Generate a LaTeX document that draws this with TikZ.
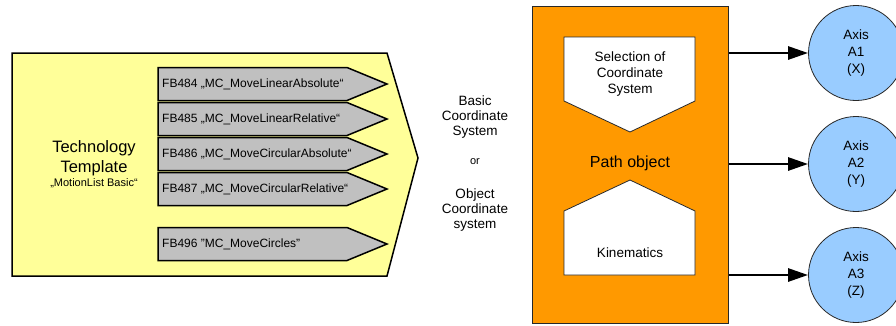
\documentclass[tikz,border=0pt]{standalone}
\usepackage{fontspec}
\setmainfont{Liberation Sans}
\usetikzlibrary{arrows.meta}
\definecolor{tplyellow}{RGB}{255,255,153}
\definecolor{fbgray}{RGB}{192,192,192}
\definecolor{pathorange}{RGB}{255,153,0}
\definecolor{axisblue}{RGB}{153,204,255}
\definecolor{edgegray}{RGB}{40,40,40}
\tikzset{
  tpl/.style={draw=black, line width=1.5pt, fill=tplyellow, line join=miter},
  fbshape/.style={draw=black, line width=1.5pt, fill=fbgray, line join=miter},
  fbtext/.style={anchor=west, inner sep=0pt, font=\fontsize{12}{14}\selectfont},
  plain/.style={inner sep=0pt, align=center, font=\fontsize{13.5}{15}\selectfont},
  pathbox/.style={draw=edgegray, line width=1pt, fill=pathorange, minimum width=196pt, minimum height=317pt, inner sep=0pt},
  pentagon/.style={draw=edgegray, line width=0.8pt, fill=white},
  axis/.style={circle, draw=edgegray, line width=0.8pt, fill=axisblue, minimum size=95pt, inner sep=0pt, align=center, font=\fontsize{13.5}{17}\selectfont},
  axarrow/.style={line width=2.7pt, -{Triangle[length=20pt,width=13pt]}}
}
\begin{document}
\begin{tikzpicture}[x=1pt,y=-1pt]
\useasboundingbox (0,0) rectangle (896,325);
\clip (0,0) rectangle (896,325);

% technology template
\draw[tpl] (12,53) -- (387,53) -- (418,158) -- (387,276) -- (12,276) -- cycle;
\node[inner sep=0pt, align=center, font=\fontsize{16.5}{20}\selectfont] (tt) at (94,158) {Technology\\Template};
\node[inner sep=0pt, font=\fontsize{11}{13}\selectfont] (ml) at (94,183) {„MotionList Basic“};

% function blocks
\foreach \yc/\lbl/\nm in {84/{FB484 „MC\_MoveLinearAbsolute“}/fb1,
                          119/{FB485 „MC\_MoveLinearRelative“}/fb2,
                          154/{FB486 „MC\_MoveCircularAbsolute“}/fb3,
                          189/{FB487 „MC\_MoveCircularRelative“}/fb4,
                          244/{FB496 "MC\_MoveCircles"}/fb5}{
  \draw[fbshape] (158,\yc-16.5) -- (347,\yc-16.5) -- (387,\yc) -- (347,\yc+16.5) -- (158,\yc+16.5) -- cycle;
  \node[fbtext] (\nm) at (162,\yc) {\lbl};
}

% coordinate system labels
\node[plain] (bcs) at (475,117) {Basic\\Coordinate\\System};
\node[plain, font=\fontsize{11}{13}\selectfont] (orl) at (475,162) {or};
\node[plain] (ocs) at (475,210) {Object\\Coordinate\\system};

% path object
\node[pathbox] (po) at (630,164.5) {};
\draw[pentagon] (564,37) -- (695,37) -- (695,101) -- (630,132) -- (564,101) -- cycle;
\node[plain, font=\fontsize{13.5}{16}\selectfont] (sel) at (630,74) {Selection of\\Coordinate\\System};
\node[inner sep=0pt, font=\fontsize{16}{18}\selectfont] (pol) at (630,163) {Path object};
\draw[pentagon] (630,180) -- (695,211) -- (695,275) -- (564,275) -- (564,211) -- cycle;
\node[inner sep=0pt, font=\fontsize{13.5}{16}\selectfont] (kin) at (630,253) {Kinematics};

% axes
\node[axis] (a1) at (856,53) {Axis\\A1\\(X)};
\node[axis] (a2) at (856,164) {Axis\\A2\\(Y)};
\node[axis] (a3) at (856,275) {Axis\\A3\\(Z)};

\draw[axarrow] (po.east |- a1) -- (a1);
\draw[axarrow] (po.east |- a2) -- (a2);
\draw[axarrow] (po.east |- a3) -- (a3);
\end{tikzpicture}
\end{document}
